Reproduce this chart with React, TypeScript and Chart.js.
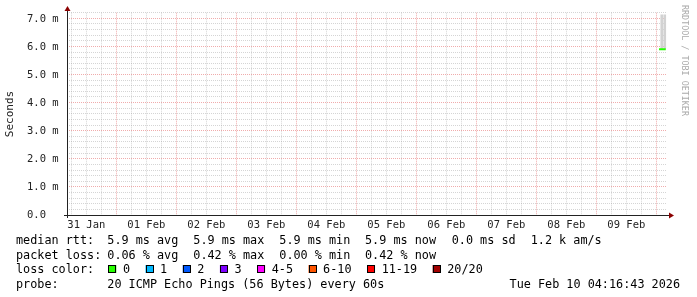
import React, { useEffect, useRef } from "react";
import { Chart, registerables } from "chart.js";
Chart.register(...registerables);

// ---- data ----
const HOURS_SPAN = 240; // 10 days shown, in hours
const FIRST_MIDNIGHT = 19.7214; // hours from graph start to 01 Feb 00:00
const DAY_LABELS = ["31 Jan", "01 Feb", "02 Feb", "03 Feb", "04 Feb", "05 Feb", "06 Feb", "07 Feb", "08 Feb", "09 Feb"];
const Y_TICK_VALUES = [0, 1, 2, 3, 4, 5, 6, 7];
const Y_TICK_LABELS = ["0.0", "1.0 m", "2.0 m", "3.0 m", "4.0 m", "5.0 m", "6.0 m", "7.0 m"];
const Y_MAX = 7.2;

const MEDIAN_X = [236.8, 239.5];
const MEDIAN_Y = [5.9, 5.9];
const SMOKE_X = [237.9, 239.1];
const SMOKE_LOW = [5.9, 5.9];
const SMOKE_HIGH = [7.12, 7.12];

const RTT_STATS = ["5.9 ms avg", "5.9 ms max", "5.9 ms min", "5.9 ms now", "0.0 ms sd", "1.2 k am/s"];
const LOSS_STATS = ["0.06 % avg", "0.42 % max", "0.00 % min", "0.42 % now"];
const LOSS_LABELS = ["0", "1", "2", "3", "4-5", "6-10", "11-19", "20/20"];
const LOSS_COLORS = ["#26ff00", "#00b8ff", "#0059ff", "#7e00ff", "#ff00ff", "#ff5500", "#ff0000", "#a10000"];
const PROBE_TEXT = "20 ICMP Echo Pings (56 Bytes) every 60s";
const DATE_TEXT = "Tue Feb 10 04:16:43 2026";

const MONO = "'DejaVu Sans Mono', monospace";
const STAT_X = [107.3, 193.3, 279.3, 365, 451.7, 530.7];

function xTickValues(): number[] {
  const out: number[] = [];
  let v = FIRST_MIDNIGHT;
  while (v - 6 >= 0) v -= 6;
  for (; v <= HOURS_SPAN; v += 6) out.push(v);
  return out;
}
function isMidnight(v: number) {
  const d = ((v - FIRST_MIDNIGHT) % 24 + 24) % 24;
  return d < 0.01 || d > 23.99;
}

const decor = {
  id: "rrdDecor",
  afterDraw(chart: any) {
    const ctx = chart.ctx as CanvasRenderingContext2D;
    const xs = chart.scales.x;
    const ys = chart.scales.y;
    const left = Math.round(xs.left);
    const right = Math.round(xs.right);
    const bottom = Math.round(ys.bottom);
    const top = Math.round(ys.top);
    ctx.save();
    // axes
    ctx.strokeStyle = "#222";
    ctx.lineWidth = 1;
    ctx.beginPath();
    ctx.moveTo(left + 0.5, bottom + 3);
    ctx.lineTo(left + 0.5, top - 2);
    ctx.moveTo(left - 3, bottom + 0.5);
    ctx.lineTo(right + 3, bottom + 0.5);
    ctx.stroke();
    // arrows
    ctx.fillStyle = "#8b0000";
    ctx.beginPath();
    ctx.moveTo(left - 2.5, top - 2);
    ctx.lineTo(left + 3.5, top - 2);
    ctx.lineTo(left + 0.5, top - 7);
    ctx.closePath();
    ctx.fill();
    ctx.beginPath();
    ctx.moveTo(right + 2, bottom - 2.5);
    ctx.lineTo(right + 2, bottom + 3.5);
    ctx.lineTo(right + 7, bottom + 0.5);
    ctx.closePath();
    ctx.fill();

    // y tick labels
    ctx.fillStyle = "#222";
    ctx.font = `10.5px ${MONO}`;
    ctx.textBaseline = "middle";
    ctx.textAlign = "left";
    Y_TICK_VALUES.forEach((v, i) => {
      ctx.fillText(Y_TICK_LABELS[i], 27, ys.getPixelForValue(v) + 0.5);
    });
    // x labels at noon
    ctx.textAlign = "center";
    DAY_LABELS.forEach((lab, i) => {
      const v = FIRST_MIDNIGHT - 12 + 24 * i;
      ctx.fillText(lab, xs.getPixelForValue(v), 225);
    });

    // y title
    ctx.save();
    ctx.font = `11px ${MONO}`;
    ctx.translate(10.5, 114);
    ctx.rotate(-Math.PI / 2);
    ctx.textAlign = "center";
    ctx.fillText("Seconds", 0, 0);
    ctx.restore();

    // watermark
    ctx.save();
    ctx.font = `8.4px ${MONO}`;
    ctx.fillStyle = "#aaa";
    ctx.translate(684, 5);
    ctx.rotate(Math.PI / 2);
    ctx.textAlign = "left";
    ctx.fillText("RRDTOOL / TOBI OETIKER", 0, 0);
    ctx.restore();

    // legend
    ctx.font = `11.8px ${MONO}`;
    ctx.fillStyle = "#000";
    ctx.textAlign = "left";
    ctx.fillText("median rtt:", 16, 241);
    RTT_STATS.forEach((s, i) => ctx.fillText(s, STAT_X[i], 241));
    ctx.fillText("packet loss:", 16, 255.5);
    LOSS_STATS.forEach((s, i) => ctx.fillText(s, STAT_X[i], 255.5));
    ctx.fillText("loss color:", 16, 270);
    let sx = 108.3;
    LOSS_LABELS.forEach((lab, i) => {
      ctx.fillStyle = LOSS_COLORS[i];
      ctx.fillRect(sx, 265, 8, 8);
      ctx.strokeStyle = "#000";
      ctx.strokeRect(Math.round(sx) + 0.5, 265.5, 7, 7);
      ctx.fillStyle = "#000";
      ctx.fillText(lab, sx + 14.6, 270);
      sx = sx + 14.6 + ctx.measureText(lab).width + 15.5;
    });
    ctx.fillText("probe:", 16, 284.5);
    ctx.fillText(PROBE_TEXT, STAT_X[0], 284.5);
    ctx.textAlign = "right";
    ctx.fillText(DATE_TEXT, 680, 284.5);
    ctx.restore();
  },
};

export default function App() {
  const ref = useRef<HTMLCanvasElement>(null);
  useEffect(() => {
    document.body.style.margin = "0";
    const minorGrid = "rgba(150,150,150,0.4)";
    const majorGrid = "rgba(225,90,90,0.5)";
    const chart = new Chart(ref.current!, {
      type: "bar",
      data: {
        datasets: [
          {
            type: "bar",
            label: "smoke",
            data: SMOKE_X.map((x, i) => ({ x, y: [SMOKE_LOW[i], SMOKE_HIGH[i]] })) as any,
            backgroundColor: "#d2d2d2",
            barThickness: 2,
            order: 2,
          },
          {
            type: "line",
            label: "median",
            data: MEDIAN_X.map((x, i) => ({ x, y: MEDIAN_Y[i] })),
            borderColor: "#26ff00",
            borderWidth: 2,
            pointRadius: 0,
            order: 1,
          },
        ],
      },
      options: {
        responsive: false,
        animation: false,
        layout: { padding: { left: 67, right: 30, top: 12.7, bottom: 82 } },
        plugins: { legend: { display: false }, tooltip: { enabled: false } },
        scales: {
          x: {
            type: "linear",
            min: 0,
            max: HOURS_SPAN,
            offset: false,
            afterBuildTicks: (s: any) => {
              s.ticks = xTickValues().map((v) => ({ value: v }));
            },
            grid: {
              offset: false,
              drawTicks: false,
              lineWidth: 1,
              color: (c: any) => (isMidnight(c.tick?.value ?? 0) ? majorGrid : minorGrid),
            },
            border: { display: false, dash: [1, 1] },
            ticks: { display: false },
          },
          y: {
            type: "linear",
            min: 0,
            max: Y_MAX,
            afterBuildTicks: (s: any) => {
              const t = [];
              for (let i = 0; i <= 36; i++) t.push({ value: i * 0.2 });
              s.ticks = t;
            },
            grid: {
              drawTicks: false,
              lineWidth: 1,
              color: (c: any) => {
                const v = c.tick?.value ?? 0;
                return Math.abs(v - Math.round(v)) < 0.01 ? majorGrid : minorGrid;
              },
            },
            border: { display: false, dash: [1, 1] },
            ticks: { display: false },
          },
        },
      },
      plugins: [decor],
    });
    return () => chart.destroy();
  }, []);
  return <canvas ref={ref} width={697} height={297} style={{ display: "block" }} />;
}
